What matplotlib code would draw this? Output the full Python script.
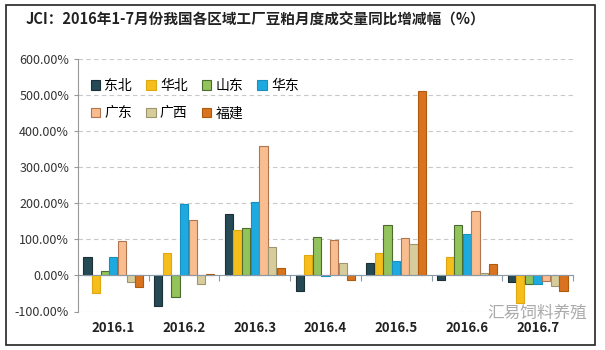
import numpy as np
import matplotlib.pyplot as plt
from matplotlib.ticker import FuncFormatter, FixedLocator

plt.rcParams['font.family'] = ['Noto Sans CJK SC', 'DejaVu Sans']

months = ['2016.1', '2016.2', '2016.3', '2016.4', '2016.5', '2016.6', '2016.7']
regions = ['东北', '华北', '山东', '华东', '广东', '广西', '福建']
dongbei = [50, -84, 170, -44, 34, -13, -17]
huabei = [-48, 61, 126, 56, 63, 51, -76]
shandong = [12, -59, 133, 107, 140, 140, -25]
huadong = [50, 198, 204, -2, 40, 115, -25]
guangdong = [95, 155, 358, 98, 103, 180, -16]
guangxi = [-19, -25, 80, 34, 86, 8, -28]
fujian = [-31, 3, 22, -13, 513, 33, -44]

series = [dongbei, huabei, shandong, huadong, guangdong, guangxi, fujian]
colors = ['#254a55', '#f5be1a', '#93c35b', '#1eaae0', '#f9bd90', '#d7cd9c', '#d9731f']
edges = ['#1b2f35', '#e0a810', '#4c6b30', '#1790c0', '#b07550', '#9e9570', '#b05a10']

fig = plt.figure(figsize=(6.05, 3.5), dpi=100)
ax = fig.add_axes([0.129, 0.110, 0.818, 0.721])

x = np.arange(len(months))
w = 0.122
bars = []
for i, (vals, c, e) in enumerate(zip(series, colors, edges)):
    b = ax.bar(x + (i - 3) * w, vals, width=w * 0.95, color=c, edgecolor=e,
               linewidth=0.8, label=regions[i], zorder=3)
    bars.append(b)

ax.set_ylim(-100, 600)
ax.set_xlim(-0.5, len(months) - 0.5)
ax.set_yticks(range(-100, 601, 100))
ax.yaxis.set_major_formatter(FuncFormatter(lambda v, p: f'{v:.2f}%'))
ax.tick_params(axis='y', labelsize=9, colors='#333333', length=3, width=0.8)
ax.tick_params(axis='y', color='#999999')
ax.grid(axis='y', linestyle=(0, (4, 3)), color='#c8c8c8', linewidth=0.8, zorder=0)

for s in ['top', 'right']:
    ax.spines[s].set_visible(False)
ax.spines['left'].set_color('#999999')
ax.spines['bottom'].set_position(('data', 0))
ax.spines['bottom'].set_color('#8a9aa8')
ax.spines['bottom'].set_zorder(4)

ax.set_xticks(x)
ax.set_xticklabels(months, fontsize=9.5, fontweight='bold', color='#222222')
ax.tick_params(axis='x', which='major', length=0, pad=33)
ax.xaxis.set_minor_locator(FixedLocator(np.arange(-0.5, len(months), 1.0)))
ax.tick_params(axis='x', which='minor', length=4, color='#8a9aa8', width=0.8)

# legend is filled column by column, so reorder to read row by row
order = [0, 4, 1, 5, 2, 6, 3]
leg = ax.legend([bars[k] for k in order], [regions[k] for k in order],
                ncol=4, loc='upper left', bbox_to_anchor=(0.0, 0.97), frameon=False,
                fontsize=10, handlelength=0.7, handleheight=0.7, handletextpad=0.3,
                columnspacing=1.0, labelspacing=0.95)

fig.text(0.042, 0.945, 'JCI：2016年1-7月份我国各区域工厂豆粕月度成交量同比增减幅（%）',
         fontsize=10.5, fontweight='bold', color='#222222', va='center')
fig.text(0.805, 0.107, '汇易饲料养殖', fontsize=12, color='#aaaaaa', va='center')

border = plt.Rectangle((0.01, 0.015), 0.973, 0.972, transform=fig.transFigure,
                       fill=False, edgecolor='#222222', linewidth=1.2)
fig.patches.append(border)

fig.savefig('out.png', dpi=100)
